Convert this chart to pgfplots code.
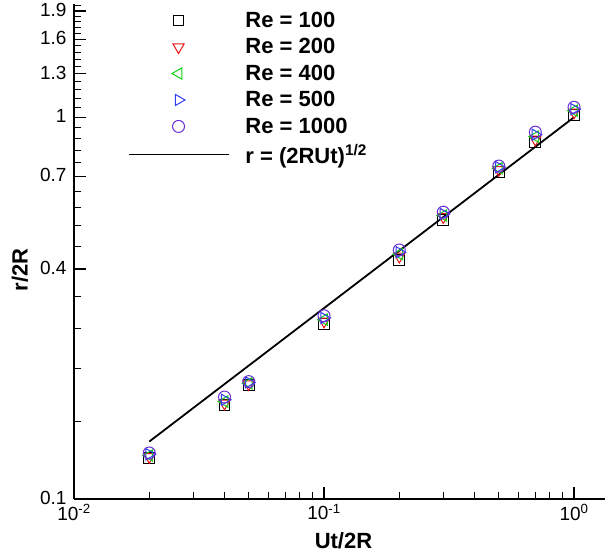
\documentclass[border=0pt]{standalone}
\usepackage{pgfplots}
\pgfplotsset{compat=1.18}
\usepackage{fontspec}
\setmainfont{Liberation Sans}
\definecolor{cRed}{RGB}{235,20,20}
\definecolor{cGreen}{RGB}{20,210,20}
\definecolor{cBlue}{RGB}{50,60,240}
\definecolor{cPurple}{RGB}{105,45,215}
\pgfplotsset{
  markleg/.style={legend image code/.code={\draw[mark repeat=2,mark phase=2,##1] plot coordinates {(0pt,0pt) (50pt,0pt) (100pt,0pt)};}},
  lineleg/.style={legend image code/.code={\draw[##1] (0pt,0pt) -- (100pt,0pt);}},
}
\begin{document}
\begin{tikzpicture}
\useasboundingbox (-74pt,-56pt) rectangle (534pt,499pt);
\begin{axis}[
  at={(0pt,0pt)}, anchor=south west,
  width=531pt, height=495pt, scale only axis,
  xmode=log, ymode=log,
  xmin=0.01, xmax=1.33, ymin=0.1, ymax=1.98,
  axis x line=bottom, axis y line=left,
  axis line style={-, line width=1.6pt},
  tick align=inside,
  xtick={0.01,0.1,1},
  xticklabels={10\textsuperscript{-2},10\textsuperscript{-1},10\textsuperscript{0}},
  minor xtick={0.02,0.03,0.04,0.05,0.06,0.07,0.08,0.09,0.2,0.3,0.4,0.5,0.6,0.7,0.8,0.9},
  ytick={0.1,0.4,0.7,1,1.3,1.6,1.9},
  yticklabels={0.1,0.4,0.7,1,1.3,1.6,1.9},
  minor ytick={0.16,0.22,0.28,0.34,0.46,0.52,0.58,0.64,0.76,0.82,0.88,0.94,1.06,1.12,1.18,1.24,1.36,1.42,1.48,1.54,1.66,1.72,1.78,1.84,1.96},
  major tick length=12pt, minor tick length=7pt,
  major tick style={line width=1.4pt, black},
  minor tick style={line width=0.9pt, black},
  tick label style={font=\fontsize{19}{21}\selectfont},
  yticklabel style={xshift=-4pt, yshift=1pt},
  xticklabel style={yshift=-2pt},
  xlabel={\bfseries Ut/2R},
  ylabel={\bfseries r/2R},
  label style={font=\fontsize{22}{24}\selectfont},
  xlabel style={at={(axis description cs:0.5,0)}, anchor=base, yshift=-49pt, xshift=4pt},
  ylabel style={at={(axis description cs:-0.1017,0.463)}, anchor=center},
  legend style={draw=none, fill=none, at={(axis description cs:0.095,0.992)}, anchor=north west,
    font=\bfseries\fontsize{22}{24}\selectfont, row sep=5.6pt,
    /tikz/every odd column/.append style={column sep=14pt}},
  legend cell align=left,
  clip=false,
]
\addplot[only marks, markleg, mark=square, mark size=5.4pt, black, line width=1pt]
  coordinates {(0.02,0.128) (0.04,0.176) (0.05,0.199) (0.1,0.288) (0.2,0.422) (0.3,0.538) (0.5,0.718) (0.7,0.860) (1.0,1.012)};
\addlegendentry{Re = 100}
\addplot[only marks, markleg, mark=triangle, mark size=6.5pt, mark options={rotate=180}, cRed, line width=1pt]
  coordinates {(0.02,0.129) (0.04,0.178) (0.05,0.200) (0.1,0.292) (0.2,0.432) (0.3,0.548) (0.5,0.728) (0.7,0.875) (1.0,1.030)};
\addlegendentry{Re = 200}
\addplot[only marks, markleg, mark=triangle, mark size=6.5pt, mark options={rotate=90}, cGreen, line width=1pt]
  coordinates {(0.02,0.130) (0.04,0.180) (0.05,0.201) (0.1,0.295) (0.2,0.438) (0.3,0.553) (0.5,0.735) (0.7,0.890) (1.0,1.040)};
\addlegendentry{Re = 400}
\addplot[only marks, markleg, mark=triangle, mark size=6.5pt, mark options={rotate=-90}, cBlue, line width=1pt]
  coordinates {(0.02,0.131) (0.04,0.182) (0.05,0.202) (0.1,0.298) (0.2,0.443) (0.3,0.558) (0.5,0.740) (0.7,0.900) (1.0,1.050)};
\addlegendentry{Re = 500}
\addplot[only marks, markleg, mark=o, mark size=6pt, cPurple, line width=1pt]
  coordinates {(0.02,0.132) (0.04,0.185) (0.05,0.203) (0.1,0.302) (0.2,0.449) (0.3,0.564) (0.5,0.745) (0.7,0.914) (1.0,1.062)};
\addlegendentry{Re = 1000}
\addplot[lineleg, black, line width=1.8pt, no marks]
  coordinates {(0.02,0.1414) (1.0,1.0)};
\addlegendentry{r = (2RUt)\textsuperscript{1/2}}
\end{axis}
\end{tikzpicture}
\end{document}
